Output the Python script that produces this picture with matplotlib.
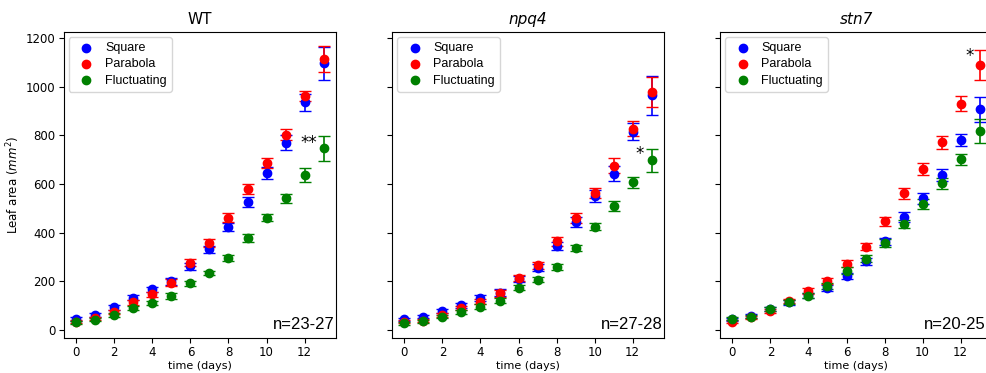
import matplotlib.pyplot as plt
import numpy as np

# days of measurement
days = np.arange(14)

titles = ["WT", "npq4", "stn7"]
n_labels = ["n=23-27", "n=27-28", "n=20-25"]

# WT
wt_square = [46, 60, 93, 132, 168, 200, 262, 331, 423, 525, 645, 770, 937, 1097]
wt_square_err = [8, 8, 9, 10, 10, 14, 14, 15, 18, 20, 25, 30, 35, 68]
wt_parabola = [33, 48, 75, 113, 147, 195, 277, 356, 461, 581, 686, 803, 962, 1114]
wt_parabola_err = [6, 7, 8, 10, 10, 15, 14, 16, 18, 20, 22, 24, 20, 52]
wt_fluct = [31, 42, 61, 89, 110, 138, 192, 234, 296, 379, 462, 541, 637, 747]
wt_fluct_err = [5, 6, 7, 9, 9, 12, 10, 10, 12, 16, 16, 20, 27, 52]

# npq4
npq_square = [44, 55, 78, 102, 132, 153, 211, 256, 345, 443, 552, 643, 814, 964]
npq_square_err = [7, 7, 9, 10, 12, 14, 12, 15, 18, 20, 24, 30, 35, 82]
npq_parabola = [33, 38, 61, 89, 116, 150, 214, 266, 364, 461, 563, 675, 828, 979]
npq_parabola_err = [6, 6, 7, 9, 10, 14, 12, 15, 18, 20, 22, 30, 30, 62]
npq_fluct = [27, 35, 55, 75, 95, 120, 173, 206, 258, 337, 425, 509, 607, 698]
npq_fluct_err = [5, 6, 7, 9, 10, 11, 10, 10, 12, 14, 16, 20, 22, 48]

# stn7
stn_square = [44, 57, 85, 113, 143, 173, 222, 282, 364, 464, 541, 638, 780, 907]
stn_square_err = [6, 7, 8, 9, 10, 13, 12, 14, 15, 20, 22, 24, 25, 51]
stn_parabola = [33, 52, 79, 119, 160, 200, 273, 342, 446, 562, 663, 772, 930, 1089]
stn_parabola_err = [6, 7, 8, 10, 11, 13, 14, 15, 18, 22, 24, 27, 30, 61]
stn_fluct = [46, 55, 85, 116, 140, 180, 243, 293, 357, 436, 518, 603, 702, 819]
stn_fluct_err = [6, 7, 8, 9, 10, 12, 14, 14, 15, 18, 20, 22, 22, 50]

# significance marks: (text, x, y)
stars = [("**", 12.65, 770), ("*", 12.6, 725), ("*", 12.7, 1126)]

panels = [
    [(wt_square, wt_square_err), (wt_parabola, wt_parabola_err), (wt_fluct, wt_fluct_err)],
    [(npq_square, npq_square_err), (npq_parabola, npq_parabola_err), (npq_fluct, npq_fluct_err)],
    [(stn_square, stn_square_err), (stn_parabola, stn_parabola_err), (stn_fluct, stn_fluct_err)],
]
names = ["Square", "Parabola", "Fluctuating"]
colors = ["blue", "red", "green"]

fig = plt.figure(figsize=(9.87, 3.73), dpi=100)
lefts = [0.0648, 0.3972, 0.7295]
n_x = [0.995, 0.995, 0.977]
axes = []
for i in range(3):
    ax = fig.add_axes([lefts[i], 0.0939, 0.2756, 0.8203], sharey=axes[0] if axes else None)
    axes.append(ax)
    for (vals, errs), name, c in zip(panels[i], names, colors):
        ax.errorbar(days, vals, yerr=errs, fmt='none', ecolor=c, capsize=4, elinewidth=1.2)
        ax.scatter(days, vals, color=c, s=36, label=name, zorder=3)
    ax.set_ylim(-33, 1225)
    ax.set_xticks(range(0, 13, 2))
    ax.set_xlabel("time (days)", fontsize=8, labelpad=1)
    ax.tick_params(labelsize=8.5, pad=2.5)
    ax.set_title(titles[i], fontsize=11, style='normal' if i == 0 else 'italic')
    ax.legend(loc='upper left', prop={'family': 'Liberation Sans', 'size': 9},
              handletextpad=0.5, labelspacing=0.35, borderaxespad=0.4)
    ax.text(n_x[i], 0.02, n_labels[i], transform=ax.transAxes, ha='right', va='bottom',
            fontsize=12, family='Liberation Sans')
    t, x, y = stars[i]
    ax.text(x, y, t, ha='right', va='center', fontsize=12)
    if i > 0:
        ax.tick_params(labelleft=False)

axes[0].set_ylabel("Leaf area ($mm^2$)", fontsize=8.5, labelpad=3)

plt.savefig('out.png', dpi=100)
